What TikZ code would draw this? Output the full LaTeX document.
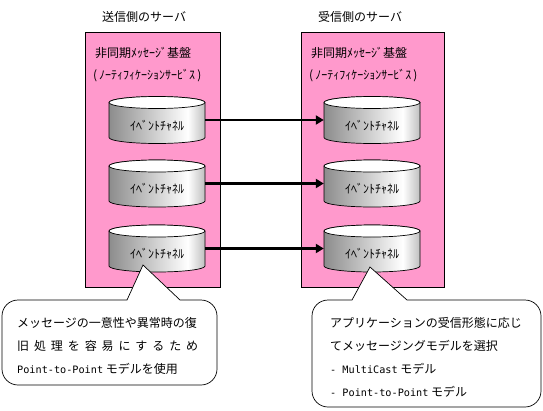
\documentclass[tikz,border=0pt]{standalone}
\usepackage{fontspec}
\setmainfont{Noto Sans CJK JP}
\newfontfamily\latfont[Scale=0.85]{DejaVu Sans Mono}
\usetikzlibrary{arrows.meta}
\definecolor{serverpink}{RGB}{255,153,204}
\pgfdeclarehorizontalshading{chanshade}{100bp}{color(0bp)=(black!45); color(25bp)=(black!45); color(66bp)=(white); color(75bp)=(black!25); color(100bp)=(black!25)}
\tikzset{
  server/.style={draw, fill=serverpink, line width=0.8pt},
  chanbody/.style={draw, shading=chanshade, line width=0.7pt},
  chantop/.style={draw, fill=white, line width=0.7pt},
  chan/.style={inner sep=0pt, minimum width=96pt, minimum height=47pt},
  flow/.style={line width=2.4pt, -{Triangle[length=8pt,width=9pt]}},
  callout/.style={draw, fill=white, line width=0.7pt},
  title/.style={anchor=west, inner sep=0pt},
  note/.style={anchor=north west, align=left, inner sep=0pt, font=\fontsize{12pt}{23pt}\selectfont},
}
\begin{document}
\begin{tikzpicture}[x=1pt,y=1pt,font=\fontsize{12pt}{14pt}\selectfont]
    \useasboundingbox (0,0) rectangle (543,-410);
    % Draw servers
    \node [title] (sendtitle) at (102,-17) {送信側のサーバ};
    \node [title] (recvtitle) at (318,-17) {受信側のサーバ};
    \draw [server] (85,-32) rectangle (220,-287);
    \draw [server] (301,-32) rectangle (444,-287);
    \node [title] (sendbase) at (95,-53) {非同期ﾒｯｾｰｼﾞ基盤};
    \node [title] (sendsvc) at (93,-76) {(\,ﾉｰﾃｨﾌｨｹｰｼｮﾝｻｰﾋﾞｽ\,)};
    \node [title] (recvbase) at (311,-53) {非同期ﾒｯｾｰｼﾞ基盤};
    \node [title] (recvsvc) at (309,-76) {(\,ﾉｰﾃｨﾌｨｹｰｼｮﾝｻｰﾋﾞｽ\,)};
    % Draw event channels
    \foreach \n/\cx/\cy in {s1/157/120,s2/157/183.5,s3/157/248.5,r1/372/120,r2/372/183.5,r3/372/248.5} {
        \path [chanbody] (\cx-48,-\cy+17.5) -- (\cx-48,-\cy-17.5)
            arc [start angle=180,end angle=360,x radius=48,y radius=6]
            -- (\cx+48,-\cy+17.5)
            arc [start angle=0,end angle=180,x radius=48,y radius=6] -- cycle;
        \path [chantop] (\cx,-\cy+17.5) ellipse [x radius=48,y radius=6];
        \node [chan] (\n) at (\cx,-\cy) {\raisebox{-10pt}[0pt][0pt]{ｲﾍﾞﾝﾄﾁｬﾈﾙ}};
    }
    \foreach \i in {1,2,3}
        \draw [flow] (s\i.east) -- (r\i.west);
    % Draw callouts
    \draw [callout] (143,-265) -- (180,-300) [rounded corners=16pt] -- (217,-300)
        -- (217,-385) -- (2,-385) -- (2,-300) [sharp corners] -- (127,-300) -- cycle;
    \draw [callout] (370,-267) -- (407,-300) [rounded corners=16pt] -- (541,-300)
        -- (541,-407) -- (312,-407) -- (312,-300) [sharp corners] -- (352,-300) -- cycle;
    \node [note] (sendnote) at (17,-317) {メッセージの一意性や異常時の復\\
        \makebox[181pt][s]{旧\hfill 処\hfill 理\hfill を\hfill 容\hfill 易\hfill に\hfill す\hfill る\hfill た\hfill め}\\
        {\latfont Point-to-Point} モデルを使用};
    \node [note] (recvnote) at (330,-317) {アプリケーションの受信形態に応じ\\
        てメッセージングモデルを選択\\
        {\latfont - MultiCast} モデル\\
        {\latfont - Point-to-Point} モデル};
\end{tikzpicture}
\end{document}
